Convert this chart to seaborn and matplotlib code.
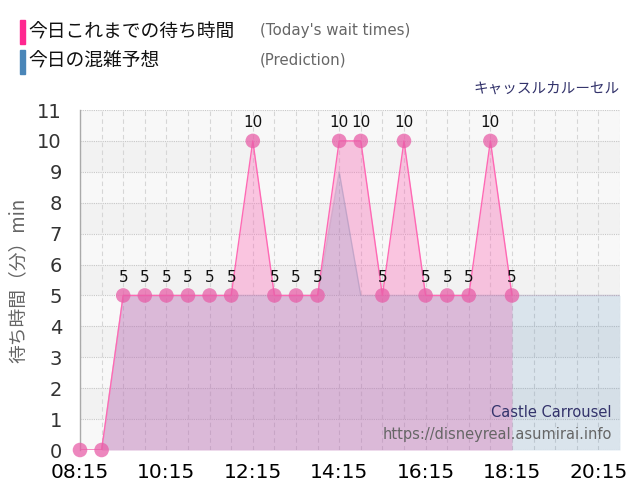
import matplotlib
matplotlib.use("Agg")
import matplotlib.pyplot as plt
from matplotlib.patches import Rectangle
import pandas as pd
import seaborn as sns

# wait times so far (every 30 min)
wait_times = ["08:15", "08:45", "09:15", "09:45", "10:15", "10:45", "11:15",
              "11:45", "12:15", "12:45", "13:15", "13:45", "14:15", "14:45",
              "15:15", "15:45", "16:15", "16:45", "17:15", "17:45", "18:15"]
wait_mins = [0, 0, 5, 5, 5, 5, 5, 5, 10, 5, 5, 5, 10, 10, 5, 10, 5, 5, 5, 10, 5]

# prediction for the whole day
pred_times = wait_times + ["18:45", "19:15", "19:45", "20:15", "20:45"]
pred_mins = [0, 0, 5, 5, 5, 5, 5, 5, 5, 5, 5, 5, 9, 5, 5, 5, 5, 5, 5, 5, 5,
             5, 5, 5, 5, 5]

xtick_labels = ["08:15", "10:15", "12:15", "14:15", "16:15", "18:15", "20:15"]


def to_hours(t):
    h, m = t.split(":")
    return int(h) + int(m) / 60


df = pd.DataFrame({"t": [to_hours(t) for t in wait_times], "wait": wait_mins})
pred = pd.DataFrame({"t": [to_hours(t) for t in pred_times], "pred": pred_mins})

sns.set_style("white")
plt.rcParams['font.family'] = ['DejaVu Sans', 'Noto Sans CJK JP']
jp = ['Noto Sans CJK JP', 'DejaVu Sans']

fig = plt.figure(figsize=(6.4, 5), dpi=100)
ax = fig.add_axes([80 / 640, 50 / 500, 540 / 640, 340 / 500])

# striped background
for i in range(11):
    ax.axhspan(i, i + 1, color='#f2f2f2' if i % 2 == 1 else '#f8f8f8', zorder=0, lw=0)

# grid
for t in pred["t"]:
    ax.axvline(t, color='#d6d6d6', lw=0.8, ls=(0, (4, 3)), zorder=1)
for y in range(12):
    ax.axhline(y, color='#c8c8c8', lw=0.8, ls=(0, (1, 1)), zorder=1)

# wait time area
ax.fill_between(df["t"], df["wait"], color='#fe66b6', alpha=0.35, lw=0, zorder=2)

# prediction area drawn over it
ax.fill_between(pred["t"], pred["pred"], color='steelblue', alpha=0.17, lw=0, zorder=3)
sns.lineplot(data=pred, x="t", y="pred", ax=ax, color='#8a7aa8', alpha=0.3,
             lw=1, zorder=3)

sns.lineplot(data=df, x="t", y="wait", ax=ax, color='#ff69b4', lw=1, zorder=5)
sns.scatterplot(data=df, x="t", y="wait", ax=ax, color='#e85fa8', s=110,
                alpha=0.75, edgecolor='none', zorder=6, clip_on=False)

for t, v in zip(df["t"], df["wait"]):
    if v > 0:
        ax.annotate(str(v), (t, v), xytext=(0, 13), textcoords='offset points',
                    ha='center', va='center', fontsize=11, color='#111111', zorder=7)

ax.set_xlim(to_hours("08:15"), to_hours("20:45"))
ax.set_ylim(0, 11)
ax.set_xticks([to_hours(t) for t in xtick_labels])
ax.set_xticklabels(xtick_labels, fontsize=14.5, color='black')
ax.set_yticks(range(12))
ax.set_yticklabels([str(i) for i in range(12)], fontsize=14, color='#333333')
ax.tick_params(axis='x', length=0, pad=9)
ax.tick_params(axis='y', length=0, pad=13)
ax.set_xlabel("")
ax.set_ylabel("待ち時間（分）min", family=jp, fontsize=13.5, color='#666666', labelpad=6)
for s in ['top', 'right', 'bottom']:
    ax.spines[s].set_visible(False)
ax.spines['left'].set_color('#aaaaaa')
ax.spines['left'].set_linewidth(1)

# header legend
fig.patches.append(Rectangle((20 / 640, 1 - 44 / 500), 5 / 640, 24 / 500,
                             transform=fig.transFigure, color='#ff2890'))
fig.patches.append(Rectangle((20 / 640, 1 - 74 / 500), 5 / 640, 24 / 500,
                             transform=fig.transFigure, color='#4a86b8'))
fig.text(28 / 640, 1 - 32 / 500, "今日これまでの待ち時間", family=jp, fontsize=13.5,
         va='center', ha='left', color='#111111')
fig.text(28 / 640, 1 - 61 / 500, "今日の混雑予想", family=jp, fontsize=13.5,
         va='center', ha='left', color='#111111')
fig.text(260 / 640, 1 - 31 / 500, "(Today's wait times)", fontsize=10.8,
         va='center', ha='left', color='#666666')
fig.text(260 / 640, 1 - 60 / 500, "(Prediction)", fontsize=10.8,
         va='center', ha='left', color='#666666')
fig.text(620 / 640, 1 - 89 / 500, "キャッスルカルーセル", family=jp, fontsize=10.5,
         va='center', ha='right', color='#33336b')

# watermark
ax.text(0.985, 0.11, "Castle Carrousel", transform=ax.transAxes, fontsize=10.5,
        ha='right', va='center', color='#33336b', zorder=8)
ax.text(0.985, 0.045, "https://disneyreal.asumirai.info", transform=ax.transAxes,
        fontsize=10.5, ha='right', va='center', color='#666666', zorder=8)

fig.savefig("out.png", dpi=100)
